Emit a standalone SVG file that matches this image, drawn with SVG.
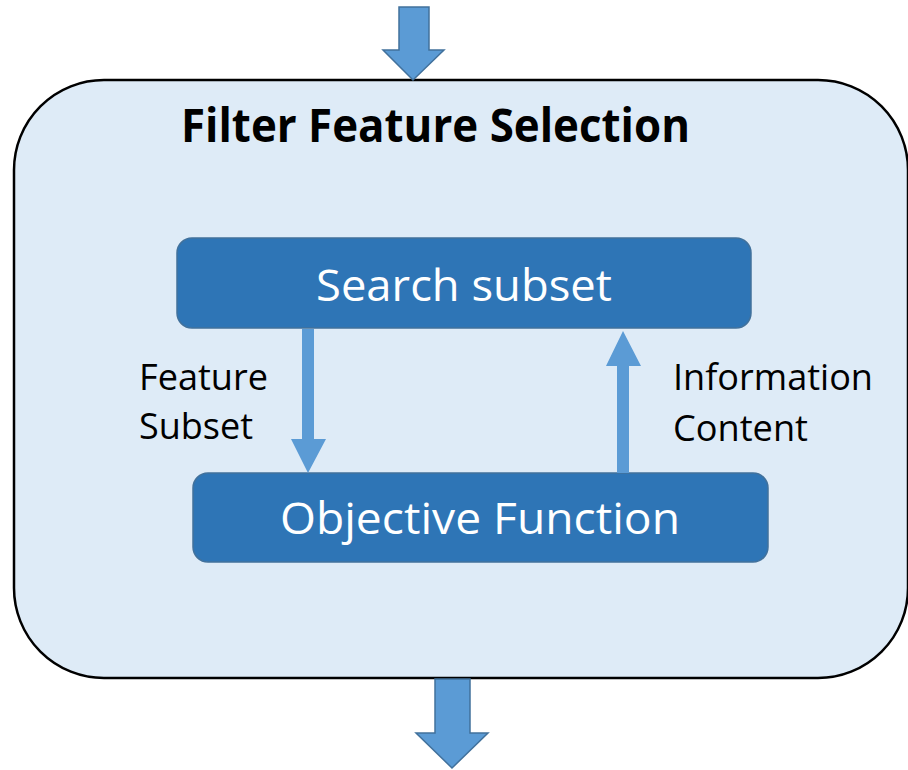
<svg xmlns="http://www.w3.org/2000/svg" width="908" height="770" viewBox="0 0 908 770">
<defs>
<style>
.big{fill:#5B9BD5;stroke:#41719C;stroke-width:1.5;stroke-linejoin:miter}
.thin{fill:#5B9BD5;stroke:none}
.node{fill:#2E75B6;stroke:#41719C;stroke-width:1.5}
.ntext{font-family:"Open Sans","Noto Sans",sans-serif;font-size:44px;fill:#FFFFFF}
.label{font-family:"Open Sans","Noto Sans",sans-serif;font-size:36px;fill:#000000}
.title{font-family:"Open Sans","Noto Sans",sans-serif;font-size:46px;font-weight:bold;fill:#000000}
</style>
</defs>
<rect width="908" height="770" fill="#FFFFFF"/>
<g id="container">
<rect x="14" y="80" width="894" height="598" rx="90" ry="90" fill="#DEEBF7" stroke="#000000" stroke-width="2.5"/>
<text class="title" x="181" y="142" textLength="509" lengthAdjust="spacingAndGlyphs">Filter Feature Selection</text>
</g>
<g id="input-arrow">
<polygon class="big" points="399,7 429,7 429,50 444,50 413,80 383,50 399,50"/>
</g>
<g id="output-arrow">
<polygon class="big" points="435,679 470,679 470,733 488,733 452,768 416,733 435,733"/>
</g>
<g id="search-subset">
<rect class="node" x="177" y="238" width="574" height="90" rx="15" ry="15"/>
<text class="ntext" x="316" y="301" textLength="296" lengthAdjust="spacingAndGlyphs">Search subset</text>
</g>
<g id="objective-function">
<rect class="node" x="193" y="473" width="575" height="89" rx="15" ry="15"/>
<text class="ntext" x="280" y="534" textLength="400" lengthAdjust="spacingAndGlyphs">Objective Function</text>
</g>
<g id="connectors">
<polygon class="thin" points="302,329 314,329 314,439 326,439 308,473 291,439 302,439"/>
<polygon class="thin" points="617,473 629,473 629,366 641,366 623,331 606,366 617,366"/>
</g>
<g id="labels">
<text class="label" x="139" y="390" textLength="129" lengthAdjust="spacingAndGlyphs">Feature</text>
<text class="label" x="139" y="439" textLength="114" lengthAdjust="spacingAndGlyphs">Subset</text>
<text class="label" x="673" y="390" textLength="200" lengthAdjust="spacingAndGlyphs">Information</text>
<text class="label" x="673" y="441" textLength="135" lengthAdjust="spacingAndGlyphs">Content</text>
</g>
</svg>
